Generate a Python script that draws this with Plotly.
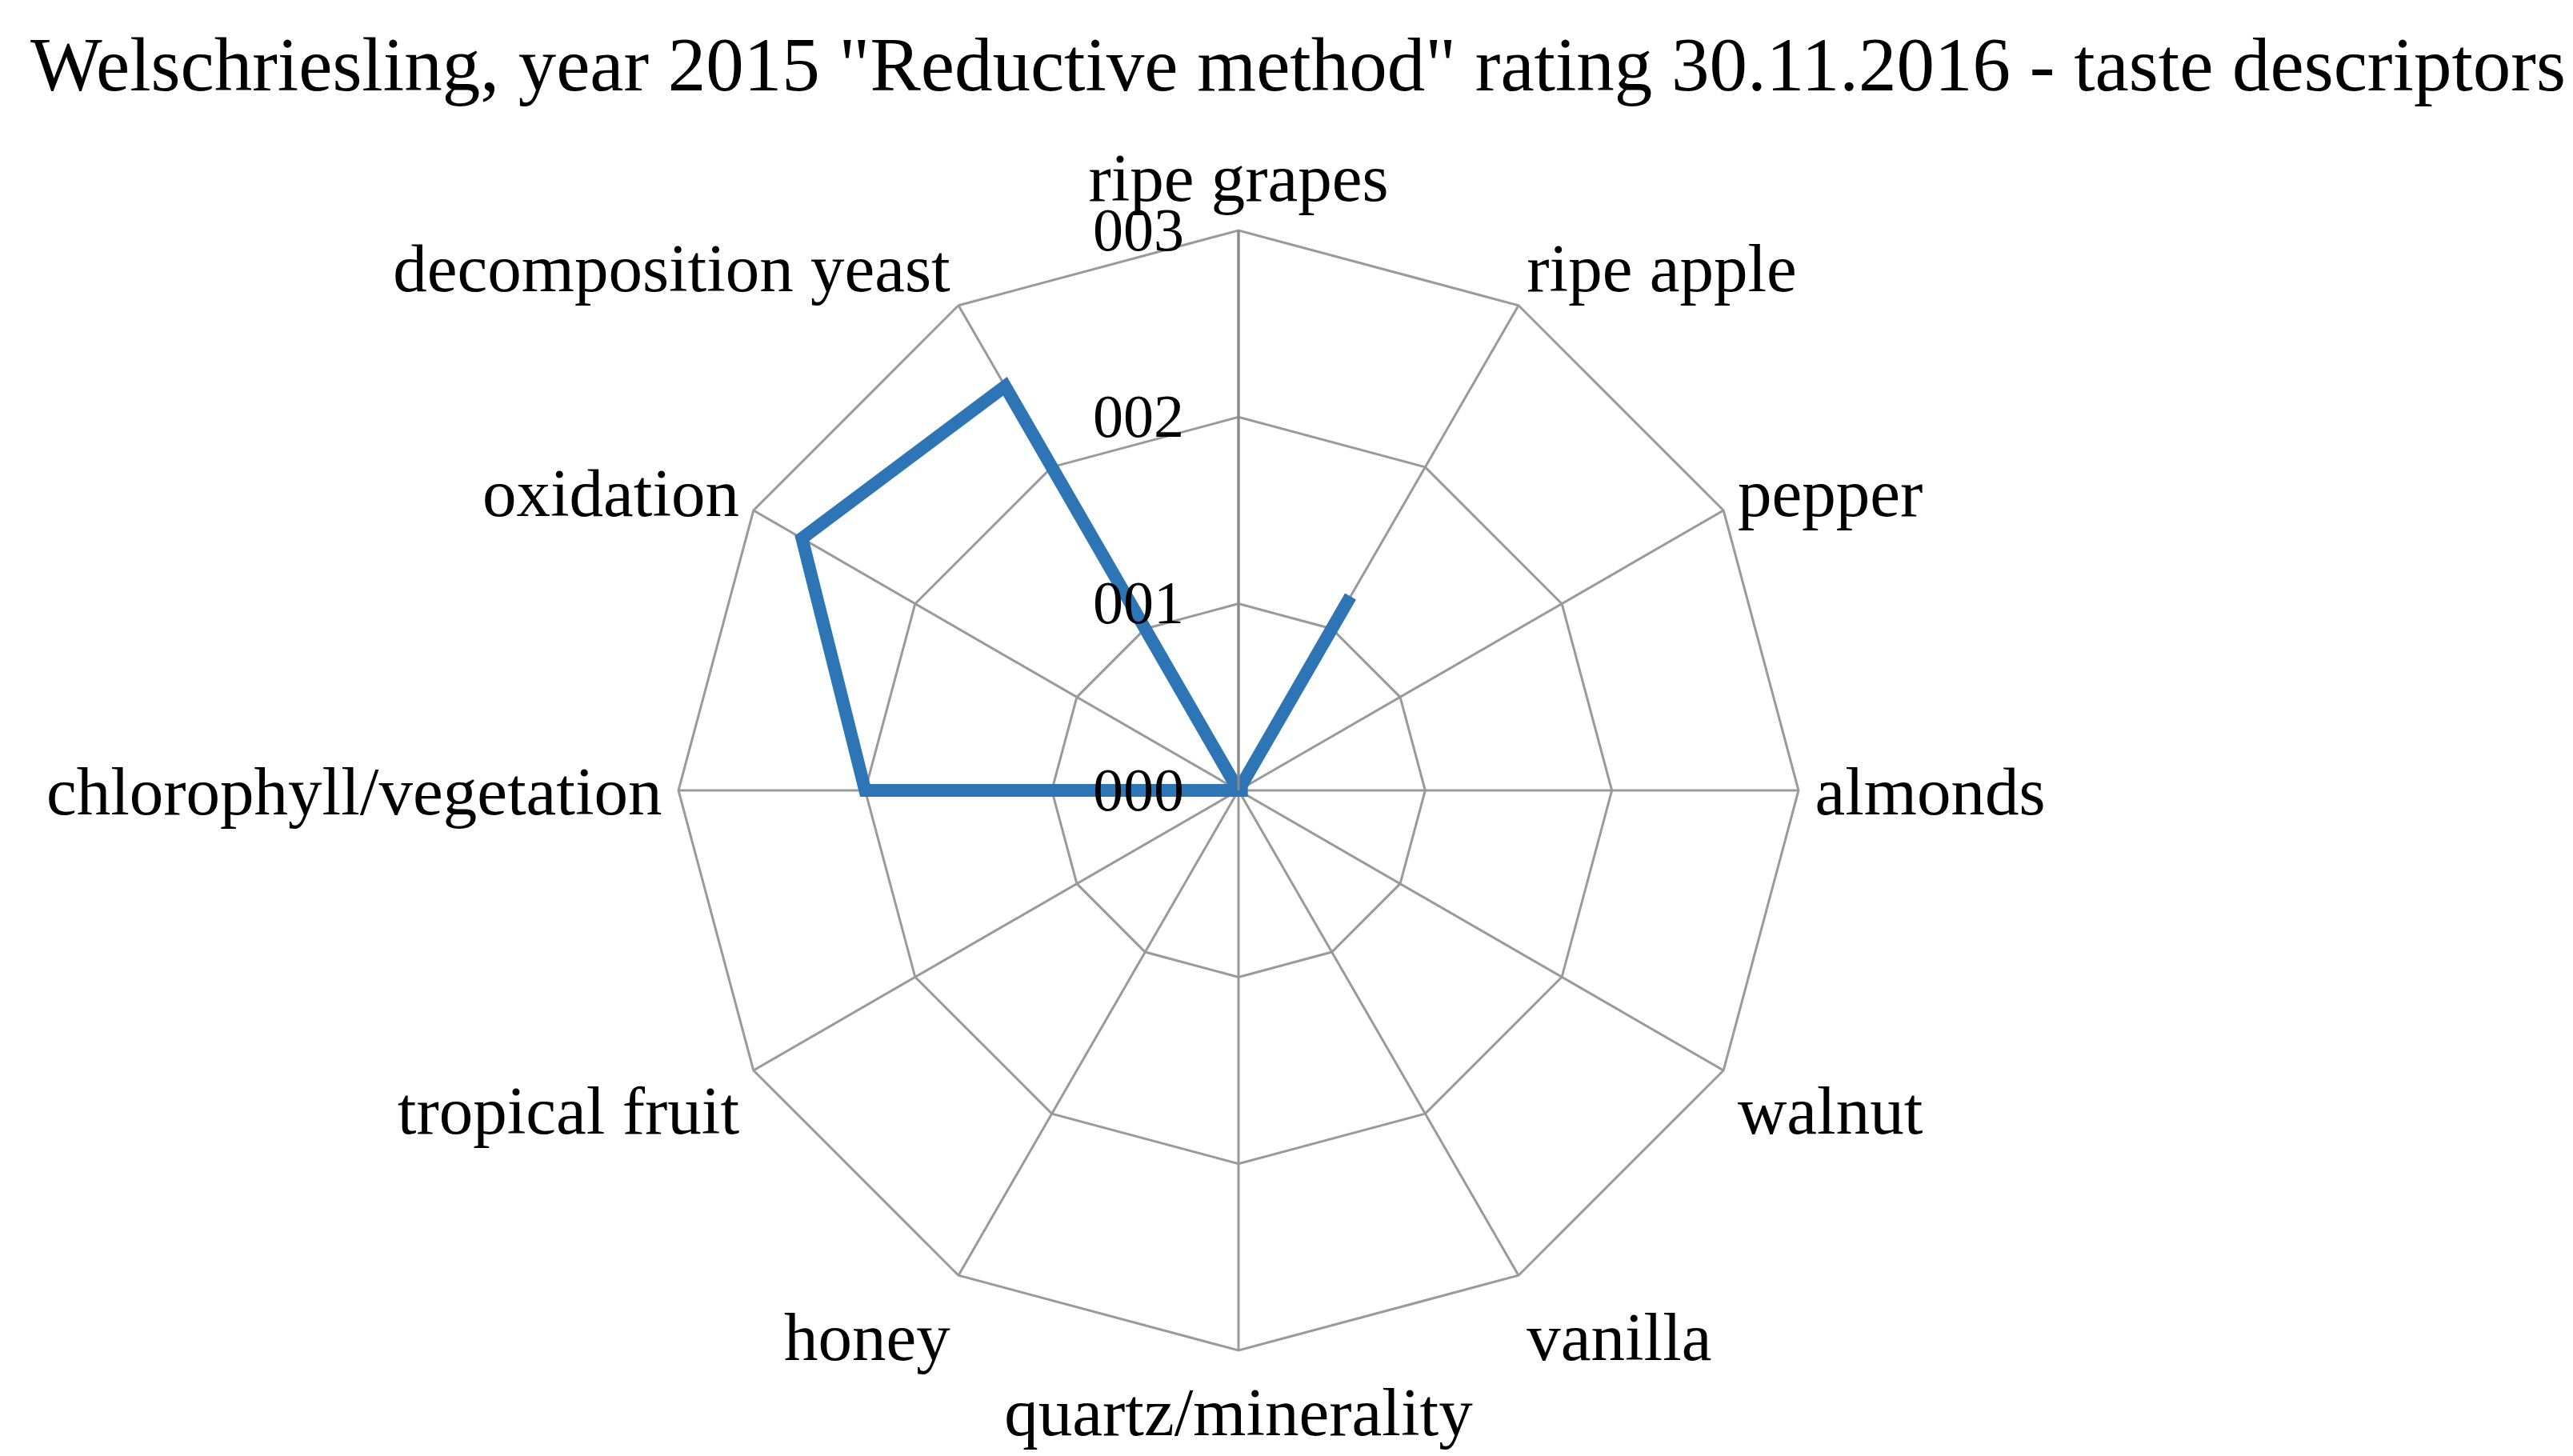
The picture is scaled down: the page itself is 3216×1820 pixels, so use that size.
import plotly.graph_objects as go

categories = ["ripe grapes", "ripe apple", "pepper", "almonds", "walnut", "vanilla",
              "quartz/minerality", "honey", "tropical fruit", "chlorophyll/vegetation",
              "oxidation", "decomposition yeast"]
values = [0.0, 1.2, 0.0, 0.05, 0.0, 0.0, 0.0, 0.0, 0.0, 2.0, 2.7, 2.5]
tick_vals = [0, 1, 2, 3]
tick_text = ["000", "001", "002", "003"]
title_text = 'Welschriesling, year 2015 "Reductive method" rating 30.11.2016 - taste descriptors'

FONT = "Liberation Serif"
GRID = "#9a9a9a"

fig = go.Figure()
fig.add_trace(go.Scatterpolar(
    r=values + values[:1],
    theta=categories + categories[:1],
    mode="lines",
    line=dict(color="#2E75B6", width=16),
    showlegend=False,
))

W, H = 3216, 1820
cx, cy, R = 1540, 980, 700
fig.update_layout(
    width=W, height=H,
    margin=dict(l=0, r=0, t=0, b=0),
    paper_bgcolor="white",
    plot_bgcolor="white",
    font=dict(family=FONT, color="black"),
    title=dict(text=title_text, x=0.502, xanchor="center", y=1 - 72 / H, yanchor="middle",
               font=dict(family=FONT, size=95, color="black")),
    polar=dict(
        domain=dict(x=[(cx - R) / W, (cx + R) / W], y=[1 - (cy + R) / H, 1 - (cy - R) / H]),
        bgcolor="white",
        gridshape="linear",
        radialaxis=dict(
            range=[0, 3], tickvals=tick_vals, ticktext=tick_text,
            angle=90, tickangle=90, side="counterclockwise",
            showline=True, linecolor="#8a8a8a", linewidth=3,
            gridcolor=GRID, gridwidth=3,
            ticks="outside", ticklen=40, tickcolor="rgba(0,0,0,0)",
            tickfont=dict(family=FONT, size=76, color="black"),
        ),
        angularaxis=dict(
            direction="clockwise", rotation=90,
            showline=True, linecolor=GRID, linewidth=3,
            gridcolor=GRID, gridwidth=3,
            ticks="outside", ticklen=2, tickcolor="rgba(0,0,0,0)",
            tickfont=dict(family=FONT, size=85, color="black"),
        ),
    ),
)
fig.write_html("out.html")
